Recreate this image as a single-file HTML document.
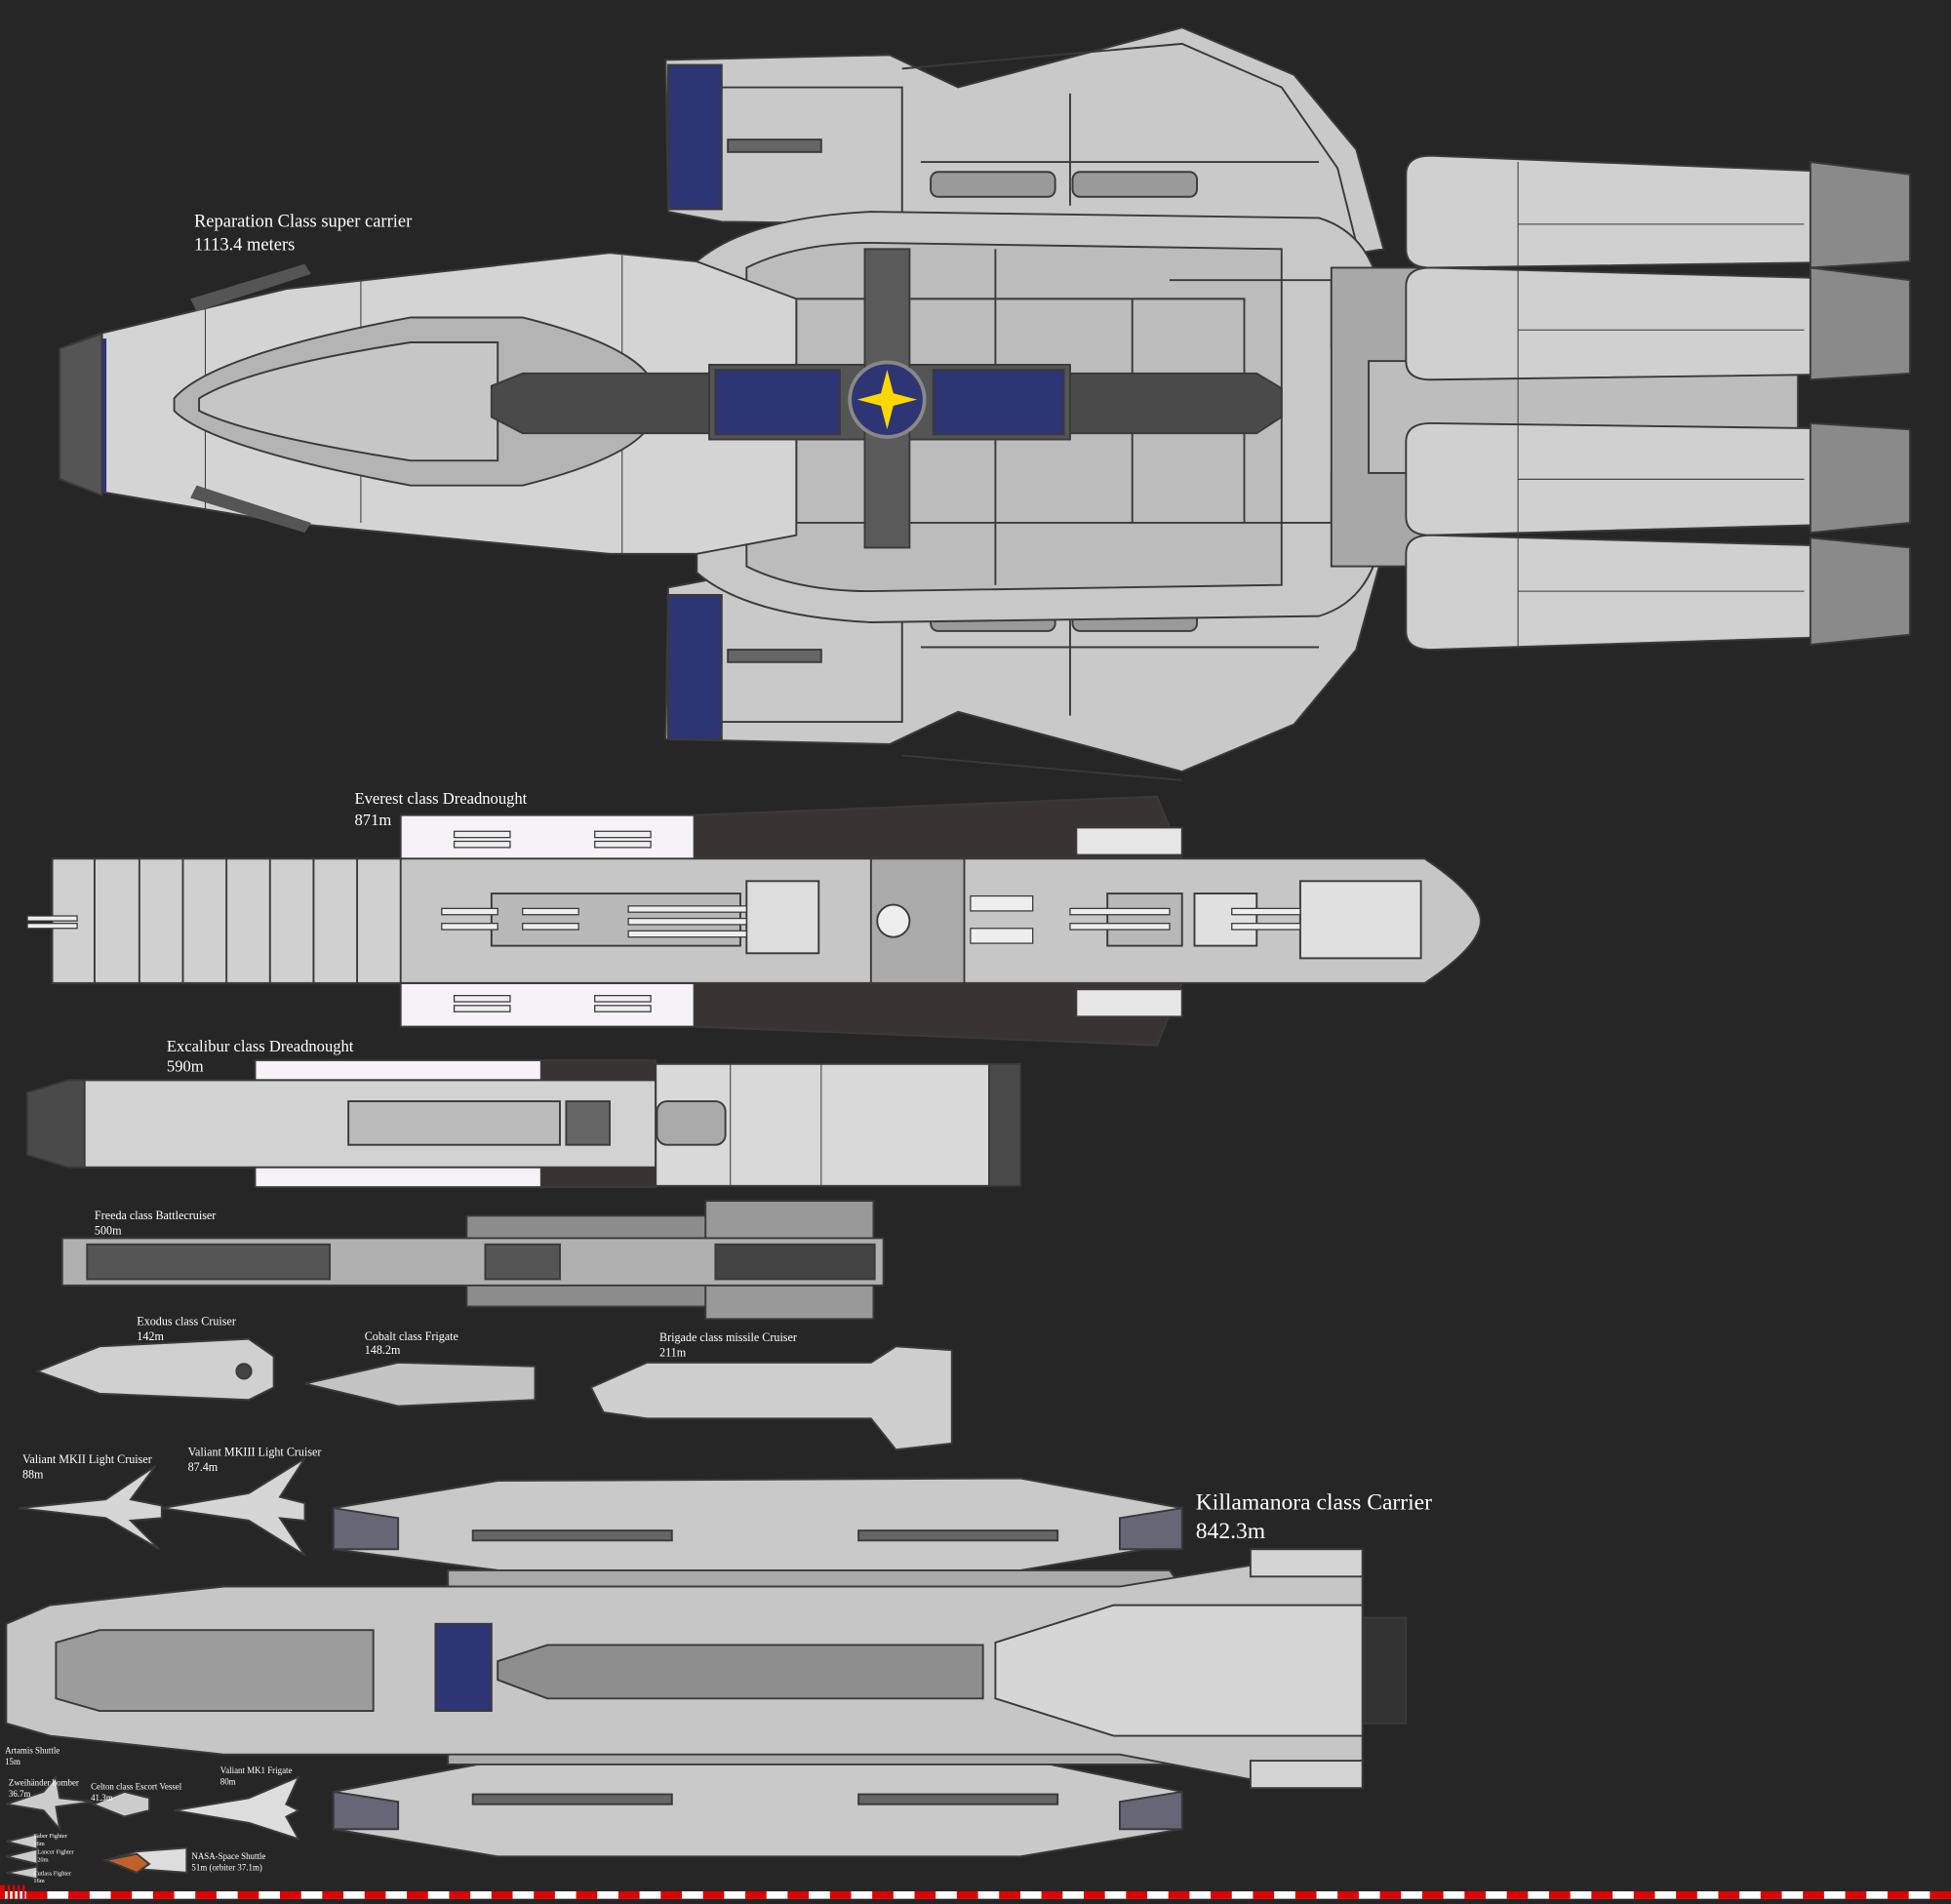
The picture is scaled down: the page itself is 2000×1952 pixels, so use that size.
<!DOCTYPE html>
<html><head><meta charset="utf-8"><style>
html,body{margin:0;padding:0;background:#262626;}
svg{display:block}
text{font-family:"Liberation Serif",serif;fill:#fff}
</style></head><body>
<svg width="2000" height="1952" viewBox="0 0 1568 1530" xmlns="http://www.w3.org/2000/svg">
<rect width="1568" height="1530" fill="#262626"/>
<g stroke="#3a3a3a" stroke-width="1.5">
<!-- top pod -->
<path d="M535 48 L715 44 L770 70 L950 22 L1040 60 L1090 120 L1112 200 L1080 205 L1050 185 L580 178 L537 170 Z" fill="#c9c9c9"/>
<path d="M725 55 L950 35 L1030 70 L1075 135 L1090 195" fill="none"/>
<path d="M580 70 L725 70 L725 175 M860 75 L860 165 M740 130 L1060 130" fill="none"/>
<rect x="537" y="52" width="43" height="116" fill="#2e3575"/>
<rect x="585" y="112" width="75" height="10" fill="#666"/>
<rect x="748" y="138" width="100" height="20" rx="6" fill="#9a9a9a"/>
<rect x="862" y="138" width="100" height="20" rx="6" fill="#9a9a9a"/>
<!-- bottom pod -->
<path d="M535 594 L715 598 L770 572 L950 620 L1040 582 L1090 522 L1112 442 L1080 437 L1050 457 L580 464 L537 472 Z" fill="#c9c9c9"/>
<path d="M725 607 L950 627 M580 580 L725 580 L725 480 M860 575 L860 485 M740 520 L1060 520" fill="none"/>
<rect x="537" y="478" width="43" height="116" fill="#2e3575"/>
<rect x="585" y="522" width="75" height="10" fill="#666"/>
<rect x="748" y="487" width="100" height="20" rx="6" fill="#9a9a9a"/>
<rect x="862" y="487" width="100" height="20" rx="6" fill="#9a9a9a"/>
<!-- middle section -->
<path d="M560 210 Q600 175 700 170 L1060 175 Q1110 190 1112 260 L1112 410 Q1110 480 1060 495 L700 500 Q600 495 560 460 Z" fill="#c8c8c8"/>
<path d="M600 215 Q640 195 700 195 L1030 200 L1030 470 L700 475 Q640 475 600 455 Z" fill="#bcbcbc"/>
<path d="M640 240 L1000 240 L1000 420 L640 420 Z M800 200 V470 M910 240 V420 M940 225 L1070 225 L1070 280 M940 420 L1070 420 L1070 380" fill="none"/>
<!-- engines -->
<rect x="1070" y="215" width="100" height="240" fill="#a8a8a8"/>
<rect x="1100" y="290" width="345" height="90" fill="#bdbdbd"/>
<path d="M1130 140 Q1130 125 1150 125 L1530 140 Q1535 145 1535 160 L1535 200 L1530 210 L1150 215 Q1130 215 1130 200 Z" fill="#d0d0d0"/>
<path d="M1130 230 Q1130 215 1150 215 L1530 225 Q1535 230 1535 245 L1535 295 L1530 300 L1150 305 Q1130 305 1130 290 Z" fill="#d0d0d0"/>
<path d="M1130 355 Q1130 340 1150 340 L1530 345 Q1535 350 1535 365 L1535 415 L1530 420 L1150 430 Q1130 430 1130 415 Z" fill="#d0d0d0"/>
<path d="M1130 445 Q1130 430 1150 430 L1530 440 Q1535 445 1535 460 L1535 505 L1530 510 L1150 522 Q1130 522 1130 507 Z" fill="#d0d0d0"/>
<path d="M1220 130 V520 M1220 180 L1450 180 M1220 265 L1450 265 M1220 385 L1450 385 M1220 475 L1450 475" fill="none" stroke-width="0.8"/>
<path d="M1455 130 L1535 140 L1535 210 L1455 215Z M1455 215 L1535 225 L1535 300 L1455 305Z M1455 340 L1535 345 L1535 420 L1455 428Z M1455 432 L1535 440 L1535 510 L1455 518Z" fill="#8a8a8a"/>
<!-- front hull -->
<path d="M48 280 L80 268 L230 232 L490 203 L560 210 L640 240 L640 430 L560 445 L490 445 L230 420 L80 395 L48 385 Z" fill="#d4d4d4"/>
<path d="M48 280 L82 268 L82 398 L48 385Z" fill="#555"/>
<line x1="84" y1="272" x2="84" y2="395" stroke="#2e3575" stroke-width="3"/>
<path d="M165 240 V410 M290 225 V420 M500 205 V445" fill="none" stroke-width="0.8"/>
<path d="M140 320 Q170 285 330 255 L420 255 Q500 275 520 300 L520 345 Q500 370 420 390 L330 390 Q170 360 140 330 Z" fill="#b4b4b4"/>
<path d="M160 320 Q200 295 330 275 L400 275 L400 370 L330 370 Q200 350 160 330Z" fill="#c6c6c6"/>
<path d="M153 240 L245 212 L250 220 L158 250Z M153 400 L245 428 L250 420 L158 390Z" fill="#555" stroke="none"/>
<!-- spine -->
<path d="M395 310 L420 300 L1010 300 L1030 312 L1030 335 L1010 348 L420 348 L395 335 Z" fill="#4a4a4a"/>
<rect x="570" y="293" width="290" height="60" fill="#555"/>
<rect x="575" y="297" width="100" height="52" fill="#2e3575"/>
<rect x="750" y="297" width="105" height="52" fill="#2e3575"/>
<rect x="695" y="200" width="36" height="240" fill="#5a5a5a"/>
<circle cx="713" cy="321" r="30" fill="#2e3575" stroke="#888" stroke-width="3"/>
<path d="M713 297 L718 316 L737 321 L718 326 L713 345 L708 326 L689 321 L708 316Z" fill="#ffd700" stroke="none"/>
<!-- Everest -->
<rect x="322" y="655" width="236" height="35" fill="#f6f2f8"/>
<rect x="322" y="790" width="236" height="35" fill="#f6f2f8"/>
<path d="M558 655 L930 640 L950 690 L558 690Z" fill="#3a3333"/>
<path d="M558 790 L950 790 L930 840 L558 825Z" fill="#3a3333"/>
<path d="M42 690 L1145 690 Q1190 720 1190 740 Q1190 760 1145 790 L42 790 Z" fill="#c6c6c6"/>
<rect x="42" y="690" width="280" height="100" fill="#d0d0d0"/>
<path d="M76 690 V790 M112 690 V790 M147 690 V790 M182 690 V790 M217 690 V790 M252 690 V790 M287 690 V790" fill="none"/>
<rect x="700" y="690" width="75" height="100" fill="#aaa"/>
<circle cx="718" cy="740" r="13" fill="#eee"/>
<rect x="600" y="708" width="58" height="58" fill="#ddd"/>
<rect x="1045" y="708" width="97" height="62" fill="#e0e0e0"/>
<rect x="865" y="665" width="85" height="22" fill="#e6e6e6"/>
<rect x="865" y="795" width="85" height="22" fill="#e6e6e6"/>
<rect x="395" y="718" width="200" height="42" fill="#b8b8b8"/>
<rect x="890" y="718" width="60" height="42" fill="#b8b8b8"/>
<rect x="960" y="718" width="50" height="42" fill="#e0e0e0"/>
<g fill="#eee" stroke-width="1">
<rect x="365" y="668" width="45" height="5"/><rect x="365" y="676" width="45" height="5"/>
<rect x="478" y="668" width="45" height="5"/><rect x="478" y="676" width="45" height="5"/>
<rect x="365" y="800" width="45" height="5"/><rect x="365" y="808" width="45" height="5"/>
<rect x="478" y="800" width="45" height="5"/><rect x="478" y="808" width="45" height="5"/>
<rect x="355" y="730" width="45" height="5"/><rect x="355" y="742" width="45" height="5"/>
<rect x="420" y="730" width="45" height="5"/><rect x="420" y="742" width="45" height="5"/>
<rect x="505" y="728" width="95" height="5"/><rect x="505" y="738" width="95" height="5"/><rect x="505" y="748" width="95" height="5"/>
<rect x="860" y="730" width="80" height="5"/><rect x="860" y="742" width="80" height="5"/>
<rect x="990" y="730" width="55" height="5"/><rect x="990" y="742" width="55" height="5"/>
<rect x="780" y="720" width="50" height="12"/><rect x="780" y="746" width="50" height="12"/>
<rect x="22" y="736" width="40" height="4"/><rect x="22" y="742" width="40" height="4"/>
</g>
<!-- Excalibur -->
<rect x="205" y="852" width="230" height="16" fill="#f6f2f8"/>
<rect x="205" y="938" width="230" height="16" fill="#f6f2f8"/>
<rect x="435" y="852" width="92" height="16" fill="#3a3333"/>
<rect x="435" y="938" width="92" height="16" fill="#3a3333"/>
<path d="M22 878 L55 868 L527 868 L527 938 L55 938 L22 928 Z" fill="#d2d2d2"/>
<path d="M22 878 L55 868 L68 868 L68 938 L55 938 L22 928Z" fill="#4a4a4a"/>
<rect x="527" y="855" width="268" height="98" fill="#d9d9d9"/>
<rect x="795" y="855" width="25" height="98" fill="#4a4a4a"/>
<path d="M587 855 V953 M660 855 V953" fill="none" stroke-width="0.8"/>
<rect x="280" y="885" width="170" height="35" fill="#bbb"/>
<rect x="455" y="885" width="35" height="35" fill="#666"/>
<rect x="528" y="885" width="55" height="35" rx="8" fill="#aaa"/>
<!-- Freeda -->
<rect x="375" y="977" width="325" height="73" fill="#8c8c8c"/>
<rect x="567" y="965" width="135" height="95" fill="#999"/>
<rect x="50" y="995" width="660" height="38" fill="#b0b0b0"/>
<rect x="70" y="1000" width="195" height="28" fill="#555"/>
<rect x="390" y="1000" width="60" height="28" fill="#555"/>
<rect x="575" y="1000" width="128" height="28" fill="#444"/>
<!-- small ships -->
<path d="M30 1102 L80 1082 L200 1076 L220 1090 L220 1115 L200 1125 L80 1120 Z" fill="#d0d0d0"/>
<circle cx="196" cy="1102" r="6" fill="#444"/>
<path d="M245 1112 L320 1095 L430 1098 L430 1125 L320 1130 Z" fill="#c4c4c4"/>
<path d="M475 1115 L520 1095 L700 1095 L720 1082 L765 1085 L765 1160 L720 1165 L700 1140 L520 1140 L485 1135 Z" fill="#cfcfcf"/>
<path d="M15 1212 L85 1205 L125 1178 L105 1205 L130 1210 L130 1220 L105 1222 L128 1245 L85 1220 Z" fill="#d6d6d6"/>
<path d="M130 1212 L200 1200 L245 1172 L225 1203 L245 1208 L245 1222 L225 1220 L245 1250 L200 1222 Z" fill="#d6d6d6"/>
<!-- Killamanora -->
<path d="M268 1212 L400 1190 L820 1188 L950 1212 L950 1240 L820 1262 L400 1262 L268 1245 Z" fill="#c9c9c9"/>
<path d="M268 1440 L400 1415 L820 1413 L950 1440 L950 1470 L820 1492 L400 1492 L268 1470 Z" fill="#c9c9c9"/>
<path d="M268 1212 L320 1220 L320 1245 L268 1245Z M950 1212 L900 1220 L900 1245 L950 1245Z M268 1440 L320 1448 L320 1470 L268 1470Z M950 1440 L900 1448 L900 1470 L950 1470Z" fill="#667"/>
<rect x="380" y="1230" width="160" height="8" fill="#666"/><rect x="690" y="1230" width="160" height="8" fill="#666"/>
<rect x="380" y="1442" width="160" height="8" fill="#666"/><rect x="690" y="1442" width="160" height="8" fill="#666"/>
<path d="M360 1262 L940 1262 L960 1290 L360 1290Z M360 1390 L960 1390 L940 1418 L360 1418Z" fill="#aaa"/>
<path d="M5 1305 L40 1290 L180 1275 L900 1275 L1005 1258 L1095 1258 L1095 1430 L1005 1430 L900 1410 L180 1410 L40 1395 L5 1385 Z" fill="#c6c6c6"/>
<rect x="1005" y="1245" width="90" height="22" fill="#d4d4d4"/>
<rect x="1005" y="1415" width="90" height="22" fill="#d4d4d4"/>
<rect x="1095" y="1300" width="35" height="85" fill="#333"/>
<path d="M800 1320 L895 1290 L1095 1290 L1095 1395 L895 1395 L800 1365Z" fill="#d6d6d6"/>
<path d="M45 1320 L80 1310 L300 1310 L300 1375 L80 1375 L45 1365 Z" fill="#9c9c9c"/>
<path d="M400 1335 L440 1322 L790 1322 L790 1365 L440 1365 L400 1350 Z" fill="#8e8e8e"/>
<rect x="350" y="1305" width="45" height="70" fill="#2e3575"/>
<!-- bottom small ships -->
<path d="M5 1450 L35 1440 L45 1428 L48 1445 L75 1448 L45 1452 L48 1470 L35 1455 Z" fill="#ccc"/>
<path d="M75 1450 L100 1440 L120 1445 L120 1455 L100 1460Z" fill="#ccc"/>
<path d="M140 1455 L200 1445 L240 1428 L230 1450 L240 1455 L230 1460 L240 1478 L200 1465 Z" fill="#ddd"/>
<path d="M85 1495 L110 1488 L150 1485 L150 1505 L110 1502 Z" fill="#ddd"/>
<path d="M85 1495 L110 1490 L120 1498 L110 1505 Z" fill="#c0602a"/>
<path d="M5 1480 L30 1474 L30 1486Z M5 1492 L30 1486 L30 1498Z M5 1505 L30 1500 L30 1510Z" fill="#ccc"/>
</g>
<!-- ruler -->
<rect x="0" y="1520" width="1568" height="6" fill="#fff"/>
<g fill="#e00000">
<rect x="0" y="1515" width="4" height="11"/><rect x="6" y="1515" width="2" height="11"/><rect x="10" y="1515" width="2" height="11"/><rect x="14" y="1515" width="2" height="11"/><rect x="18" y="1515" width="2" height="11"/>
<rect x="21" y="1520" width="17" height="6"/><rect x="55" y="1520" width="17" height="6"/><rect x="89" y="1520" width="17" height="6"/><rect x="123" y="1520" width="17" height="6"/><rect x="157" y="1520" width="17" height="6"/><rect x="191" y="1520" width="17" height="6"/><rect x="225" y="1520" width="17" height="6"/><rect x="259" y="1520" width="17" height="6"/><rect x="293" y="1520" width="17" height="6"/><rect x="327" y="1520" width="17" height="6"/><rect x="361" y="1520" width="17" height="6"/><rect x="395" y="1520" width="17" height="6"/><rect x="429" y="1520" width="17" height="6"/><rect x="463" y="1520" width="17" height="6"/><rect x="497" y="1520" width="17" height="6"/><rect x="531" y="1520" width="17" height="6"/><rect x="565" y="1520" width="17" height="6"/><rect x="599" y="1520" width="17" height="6"/><rect x="633" y="1520" width="17" height="6"/><rect x="667" y="1520" width="17" height="6"/><rect x="701" y="1520" width="17" height="6"/><rect x="735" y="1520" width="17" height="6"/><rect x="769" y="1520" width="17" height="6"/><rect x="803" y="1520" width="17" height="6"/><rect x="837" y="1520" width="17" height="6"/><rect x="871" y="1520" width="17" height="6"/><rect x="905" y="1520" width="17" height="6"/><rect x="939" y="1520" width="17" height="6"/><rect x="973" y="1520" width="17" height="6"/><rect x="1007" y="1520" width="17" height="6"/><rect x="1041" y="1520" width="17" height="6"/><rect x="1075" y="1520" width="17" height="6"/><rect x="1109" y="1520" width="17" height="6"/><rect x="1143" y="1520" width="17" height="6"/><rect x="1177" y="1520" width="17" height="6"/><rect x="1211" y="1520" width="17" height="6"/><rect x="1245" y="1520" width="17" height="6"/><rect x="1279" y="1520" width="17" height="6"/><rect x="1313" y="1520" width="17" height="6"/><rect x="1347" y="1520" width="17" height="6"/><rect x="1381" y="1520" width="17" height="6"/><rect x="1415" y="1520" width="17" height="6"/><rect x="1449" y="1520" width="17" height="6"/><rect x="1483" y="1520" width="17" height="6"/><rect x="1517" y="1520" width="17" height="6"/><rect x="1551" y="1520" width="17" height="6"/>
</g>
<!-- labels -->
<text x="156" y="182" font-size="14.5">Reparation Class super carrier</text>
<text x="156" y="201" font-size="14.5">1113.4 meters</text>
<text x="285" y="646" font-size="13">Everest class Dreadnought</text>
<text x="285" y="663" font-size="13">871m</text>
<text x="134" y="845" font-size="13">Excalibur class Dreadnought</text>
<text x="134" y="861" font-size="13">590m</text>
<text x="76" y="980" font-size="9.5">Freeda class Battlecruiser</text>
<text x="76" y="992" font-size="9.5">500m</text>
<text x="110" y="1065" font-size="9.5">Exodus class Cruiser</text>
<text x="110" y="1077" font-size="9.5">142m</text>
<text x="293" y="1077" font-size="9.5">Cobalt class Frigate</text>
<text x="293" y="1088" font-size="9.5">148.2m</text>
<text x="530" y="1078" font-size="9.5">Brigade class missile Cruiser</text>
<text x="530" y="1090" font-size="9.5">211m</text>
<text x="18" y="1176" font-size="9.5">Valiant MKII Light Cruiser</text>
<text x="18" y="1188" font-size="9.5">88m</text>
<text x="151" y="1170" font-size="9.5">Valiant MKIII Light Cruiser</text>
<text x="151" y="1182" font-size="9.5">87.4m</text>
<text x="961" y="1213" font-size="18.5">Killamanora class Carrier</text>
<text x="961" y="1236" font-size="18.5">842.3m</text>
<text x="4" y="1409" font-size="7">Artamis Shuttle</text>
<text x="4" y="1418" font-size="7">15m</text>
<text x="7" y="1435" font-size="7">Zweihänder bomber</text>
<text x="7" y="1444" font-size="7">36.7m</text>
<text x="73" y="1438" font-size="7">Celton class Escort Vessel</text>
<text x="73" y="1447" font-size="7">41.3m</text>
<text x="177" y="1425" font-size="7">Valiant MK1 Frigate</text>
<text x="177" y="1434" font-size="7">80m</text>
<text x="154" y="1494" font-size="7">NASA-Space Shuttle</text>
<text x="154" y="1503" font-size="7">51m (orbiter 37.1m)</text>
<text x="27" y="1477" font-size="5">Saber Fighter</text>
<text x="27" y="1483" font-size="5">16m</text>
<text x="30" y="1490" font-size="5">Lancer Fighter</text>
<text x="30" y="1496" font-size="5">20m</text>
<text x="27" y="1507" font-size="5">Cutlass Fighter</text>
<text x="27" y="1513" font-size="5">16m</text>
</svg>
</body></html>
